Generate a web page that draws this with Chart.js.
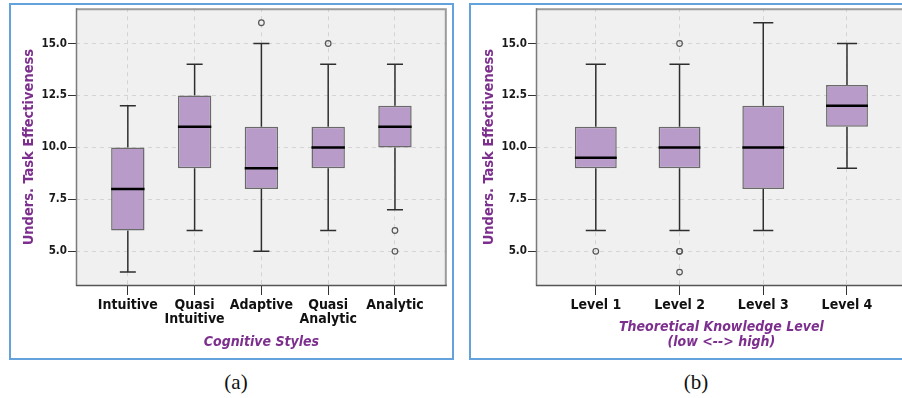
<!DOCTYPE html>
<html>
<head>
<meta charset="utf-8">
<script src="https://cdn.jsdelivr.net/npm/chart.js@4.4.1/dist/chart.umd.min.js"></script>
<style>
  html, body { margin:0; padding:0; background:#fff; overflow:hidden; }
  #wrap { position:relative; width:902px; height:398px; overflow:hidden; background:#fff; }
  .panel { position:absolute; top:3px; width:445px; height:357px; box-sizing:border-box; border:2px solid #63a2dc; }
  canvas { position:absolute; }
  .cap { position:absolute; top:370px; font-family:'Liberation Serif','DejaVu Serif',serif; font-size:21px; color:#111; transform:translateX(-50%); line-height:24px; }
</style>
</head>
<body>
<div id="wrap">
  <div class="panel" style="left:9px;"></div>
  <div class="panel" style="left:469px;"></div>
  <canvas id="c1" width="441" height="355" style="left:11px;top:3px;width:441px;height:355px;"></canvas>
  <canvas id="c2" width="441" height="355" style="left:471px;top:3px;width:441px;height:355px;"></canvas>
  <div class="cap" style="left:236px;">(a)</div>
  <div class="cap" style="left:696px;">(b)</div>
</div>
<script>
// ---------- data ----------
const yTicks = [5, 7.5, 10, 12.5, 15];

const styleCats = [['Intuitive'], ['Quasi', 'Intuitive'], ['Adaptive'], ['Quasi', 'Analytic'], ['Analytic']];
const styleMin    = [4, 6, 5, 6, 7];
const styleQ1     = [6, 9, 8, 9, 10];
const styleMedian = [8, 11, 9, 10, 11];
const styleQ3     = [10, 12.5, 11, 11, 12];
const styleMax    = [12, 14, 15, 14, 14];
const styleOutliers = [[], [], [16], [15], [6, 5]];

const levelCats = ['Level 1', 'Level 2', 'Level 3', 'Level 4'];
const levelMin    = [6, 6, 6, 9];
const levelQ1     = [9, 9, 8, 11];
const levelMedian = [9.5, 10, 10, 12];
const levelQ3     = [11, 11, 12, 13];
const levelMax    = [14, 14, 16, 15];
const levelOutliers = [[5], [15, 5, 5, 4], [], []];

// ---------- styling ----------
const FONT = "'DejaVu Sans Condensed', 'DejaVu Sans', sans-serif";
const PURPLE = '#7d2f8e';
const BOX_FILL = '#b89bc9';

const plotFrame = {
  id: 'plotFrame',
  beforeDraw(chart) {
    const {ctx, chartArea: a} = chart;
    ctx.save();
    ctx.fillStyle = '#f0f0f0';
    ctx.fillRect(a.left, a.top, a.right - a.left, a.bottom - a.top);
    ctx.restore();
  },
  afterDatasetsDraw(chart) {
    const {ctx, chartArea: a} = chart;
    ctx.save();
    ctx.setLineDash([]);
    ctx.strokeStyle = '#9c9c9c'; ctx.lineWidth = 2;
    ctx.beginPath();
    ctx.moveTo(a.left, a.top + 1); ctx.lineTo(a.right - 1, a.top + 1); ctx.lineTo(a.right - 1, a.bottom);
    ctx.stroke();
    ctx.strokeStyle = '#7a7a7a'; ctx.lineWidth = 1.5;
    ctx.beginPath(); ctx.moveTo(a.left + 0.5, a.top); ctx.lineTo(a.left + 0.5, a.bottom); ctx.stroke();
    ctx.strokeStyle = '#555'; ctx.lineWidth = 1.5;
    ctx.beginPath(); ctx.moveTo(a.left, a.bottom - 0.5); ctx.lineTo(a.right, a.bottom - 0.5); ctx.stroke();
    ctx.restore();
  }
};

function makeBoxChart(id, cats, mins, q1s, meds, q3s, maxs, outs, xPad, xTitle, titlePad) {
  const n = cats.length;
  const boxes = [], whiskers = [], medians = [], points = [];
  for (let i = 0; i < n; i++) {
    boxes.push({x: i, y: [q1s[i], q3s[i]]});
    whiskers.push({x: i, y: mins[i]}, {x: i, y: q1s[i]}, {x: i, y: null},
                  {x: i, y: q3s[i]}, {x: i, y: maxs[i]}, {x: i, y: null},
                  {x: i - 0.12, y: mins[i]}, {x: i + 0.12, y: mins[i]}, {x: i, y: null},
                  {x: i - 0.12, y: maxs[i]}, {x: i + 0.12, y: maxs[i]}, {x: i, y: null});
    medians.push({x: i - 0.25, y: meds[i]}, {x: i + 0.25, y: meds[i]}, {x: i, y: null});
    outs[i].forEach(v => points.push({x: i, y: v}));
  }
  return new Chart(document.getElementById(id), {
    type: 'bar',
    data: {
      datasets: [
        { type: 'bar', data: boxes, backgroundColor: BOX_FILL, borderColor: '#6a6a6a', borderWidth: 1.5,
          borderSkipped: false, barPercentage: 0.5, categoryPercentage: 1, order: 3 },
        { type: 'line', data: whiskers, borderColor: '#2e2e2e', borderWidth: 1.5, pointRadius: 0,
          spanGaps: false, fill: false, tension: 0, order: 4 },
        { type: 'line', data: medians, borderColor: '#000', borderWidth: 2.5, pointRadius: 0,
          spanGaps: false, fill: false, tension: 0, order: 1 },
        { type: 'line', data: points, showLine: false, pointRadius: 2.8, pointBorderWidth: 1.2,
          pointBorderColor: '#555', pointBackgroundColor: 'rgba(0,0,0,0)', order: 0 }
      ]
    },
    options: {
      responsive: false, animation: false, devicePixelRatio: 1,
      layout: { padding: { top: 0, right: 4, bottom: 0, left: 0 } },
      plugins: { legend: { display: false }, tooltip: { enabled: false } },
      events: [],
      scales: {
        x: {
          type: 'linear', offset: false, min: -xPad, max: n - 1 + xPad,
          afterBuildTicks: s => { s.ticks = cats.map((c, i) => ({value: i})); },
          afterFit: s => { s.height = 72; s.paddingLeft = 0; s.paddingRight = 0; },
          grid: { offset: false, color: '#d4d4d4', lineWidth: 1, tickLength: 9, tickColor: '#333',
                  tickWidth: 1, tickBorderDash: [] },
          border: { display: false, dash: [4, 4] },
          ticks: { autoSkip: false, maxRotation: 0, padding: 3, color: '#111',
                   font: { family: FONT, size: 14, weight: 'bold', lineHeight: 1.0 },
                   callback: v => cats[v] },
          title: { display: true, text: xTitle, color: PURPLE,
                   font: { family: FONT, size: 14, weight: 'bold', style: 'italic', lineHeight: '15px' },
                   padding: { top: 0, bottom: titlePad } }
        },
        y: {
          min: 3.33, max: 16.7,
          afterBuildTicks: s => { s.ticks = yTicks.map(v => ({value: v})); },
          afterFit: s => { s.width = 65; s.paddingTop = 0; s.paddingBottom = 0; },
          grid: { color: '#d4d4d4', lineWidth: 1, tickLength: 8, tickColor: '#333', tickWidth: 1,
                  tickBorderDash: [] },
          border: { display: false, dash: [4, 4] },
          ticks: { padding: 1, color: '#1a1a1a', font: { family: FONT, size: 11.5, weight: 'bold' },
                   callback: v => Number(v).toFixed(1) },
          title: { display: true, text: 'Unders. Task Effectiveness', color: PURPLE,
                   font: { family: FONT, size: 14.5, weight: 'bold', lineHeight: 1.2 },
                   padding: { top: 10, bottom: 0 } }
        }
      }
    },
    plugins: [plotFrame]
  });
}

makeBoxChart('c1', styleCats, styleMin, styleQ1, styleMedian, styleQ3, styleMax, styleOutliers,
             52 / 67, 'Cognitive Styles', 8);
makeBoxChart('c2', levelCats, levelMin, levelQ1, levelMedian, levelQ3, levelMax, levelOutliers,
             60 / 84, ['Theoretical Knowledge Level', '(low <--> high)'], 8.5);
</script>
</body>
</html>
